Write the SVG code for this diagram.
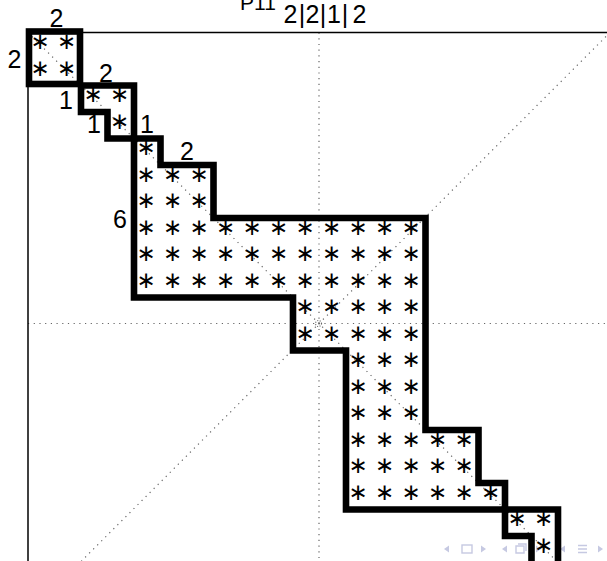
<svg xmlns="http://www.w3.org/2000/svg" width="607" height="561" viewBox="0 0 607 561">
<style>
.axis{stroke:#000;stroke-width:1.5;fill:none}
.dot{stroke:#666;stroke-width:1.2;stroke-dasharray:1.2 4.5;fill:none}
.blk{stroke:#000;stroke-width:6.6;fill:none;stroke-linejoin:miter;stroke-linecap:square}
.lbl{font-family:"Liberation Sans","DejaVu Sans",sans-serif;font-size:25px;fill:#000;text-anchor:middle}
.st{font-family:"DejaVu Sans",sans-serif;font-size:23px;fill:#000;text-anchor:middle}
.nav{fill:#c6c9e2;stroke:none}
.navs{fill:none;stroke:#c6c9e2;stroke-width:1.4}
</style>
<rect width="607" height="561" fill="#fff"/>
<g id="title">
<text class="lbl" x="240" y="9.5" style="font-size:21px;text-anchor:start">P11</text>
<text class="lbl" x="290.5 302 312.5 323 334 345 359.5" y="23">2|2|1|2</text>
</g>
<g id="nav">
<path class="nav" d="M444,549 L449,545.5 L449,552.5 Z"/>
<rect class="navs" x="462" y="545" width="10" height="8"/>
<path class="nav" d="M486,549 L481,545.5 L481,552.5 Z"/>
<path class="nav" d="M502,549 L507,545.5 L507,552.5 Z"/>
<path class="navs" d="M516,546 h8 v7 h-8 z M518,544 h8 v7"/>
<path class="nav" d="M541,549 L536,545.5 L536,552.5 Z"/>
<path class="nav" d="M560,549 L565,545.5 L565,552.5 Z"/>
<path class="navs" d="M578,545.5 h9 M578,549 h9 M578,552.5 h9"/>
<path class="nav" d="M603,549 L598,545.5 L598,552.5 Z"/>
</g>
<g id="guides">
<line class="dot" x1="319" y1="32.5" x2="319" y2="561"/>
<line class="dot" x1="28" y1="323.5" x2="607" y2="323.5"/>
<line class="dot" x1="28" y1="32.5" x2="607" y2="611.5"/>
<line class="dot" x1="610" y1="32.5" x2="81.5" y2="561"/>
<circle class="dot" cx="318.5" cy="323.5" r="3" style="stroke-dasharray:1 1.5"/>
</g>
<g id="axes">
<line class="axis" x1="28" y1="32.5" x2="607" y2="32.5"/>
<line class="axis" x1="28" y1="32.5" x2="28" y2="561"/>
</g>
<g id="connectors"></g>
<g id="block1">
<rect class="blk" x="29" y="31.5" width="51" height="52.5"/>
<text class="lbl" x="56.5" y="27">2</text>
<text class="lbl" x="14.5" y="68">2</text>
<text class="st" x="40 66.5" y="49">∗∗</text>
<text class="st" x="40 66.5" y="75.5">∗∗</text>
</g>
<g id="block2">
<path class="blk" d="M81,85.5 H134 V138.5 H107.5 V112 H81 Z"/>
<text class="lbl" x="106" y="82">2</text>
<text class="lbl" x="66" y="109">1</text>
<text class="lbl" x="94" y="133">1</text>
<text class="st" x="93 119.5" y="102">∗∗</text>
<text class="st" x="119.5" y="128.5">∗</text>
</g>
<g id="block3">
<path class="blk" d="M134,138.5 H160.5 V165 H213.5 V218 H425.5 V430 H478.5 V483 H505 V509.5 H346 V350.5 H293 V297.5 H134 Z"/>
<text class="lbl" x="147" y="133">1</text>
<text class="lbl" x="187" y="160">2</text>
<text class="lbl" x="120" y="228">6</text>
<text class="st" x="146" y="155">∗</text>
<text class="st" x="146 172.5 199" y="181.5">∗∗∗</text>
<text class="st" x="146 172.5 199" y="208">∗∗∗</text>
<text class="st" x="146 172.5 199 225.5 252 278.5 305 331.5 358 384.5 411" y="234.5">∗∗∗∗∗∗∗∗∗∗∗</text>
<text class="st" x="146 172.5 199 225.5 252 278.5 305 331.5 358 384.5 411" y="261">∗∗∗∗∗∗∗∗∗∗∗</text>
<text class="st" x="146 172.5 199 225.5 252 278.5 305 331.5 358 384.5 411" y="287.5">∗∗∗∗∗∗∗∗∗∗∗</text>
<text class="st" x="305 331.5 358 384.5 411" y="314">∗∗∗∗∗</text>
<text class="st" x="305 331.5 358 384.5 411" y="340.5">∗∗∗∗∗</text>
<text class="st" x="358 384.5 411" y="367">∗∗∗</text>
<text class="st" x="358 384.5 411" y="393.5">∗∗∗</text>
<text class="st" x="358 384.5 411" y="420">∗∗∗</text>
<text class="st" x="358 384.5 411 437.5 464" y="446.5">∗∗∗∗∗</text>
<text class="st" x="358 384.5 411 437.5 464" y="473">∗∗∗∗∗</text>
<text class="st" x="358 384.5 411 437.5 464 490.5" y="499.5">∗∗∗∗∗∗</text>
</g>
<g id="block4">
<path class="blk" d="M531.5,575 V536 H505 V509.5 H558 V575"/>
<text class="st" x="517 543.5" y="526">∗∗</text>
<text class="st" x="543.5" y="552.5">∗</text>
</g>
</svg>
